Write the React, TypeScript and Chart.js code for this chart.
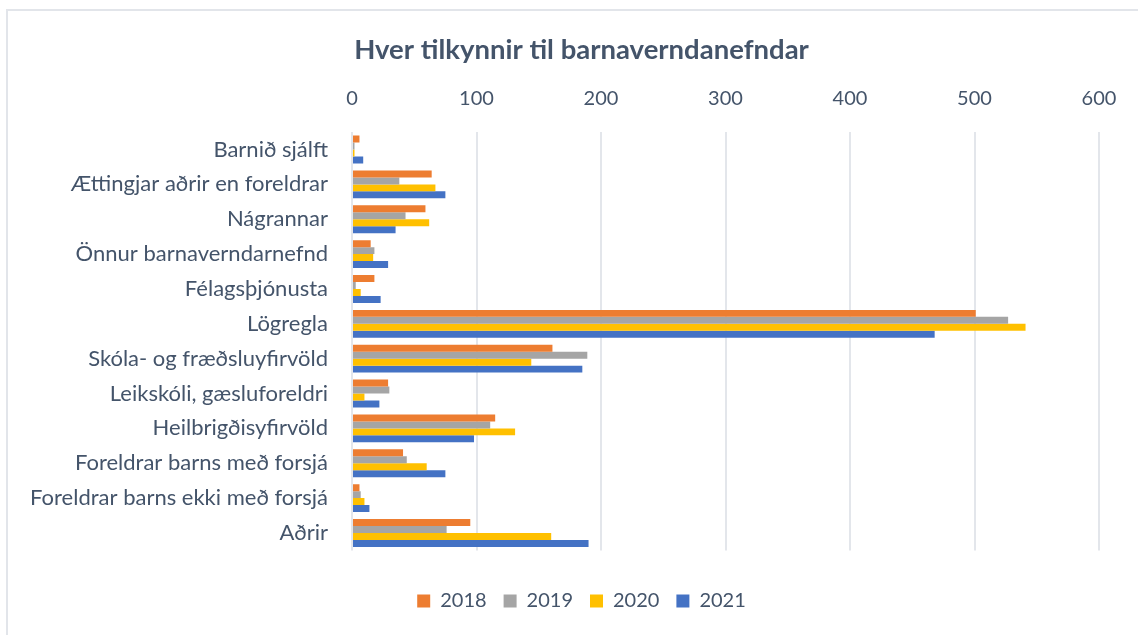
import React, { useEffect, useRef } from "react";
import { Chart, registerables } from "chart.js";

Chart.register(...registerables);

const title = "Hver tilkynnir til barnaverndanefndar";
const categories = [
  "Barnið sjálft",
  "Ættingjar aðrir en foreldrar",
  "Nágrannar",
  "Önnur barnaverndarnefnd",
  "Félagsþjónusta",
  "Lögregla",
  "Skóla- og fræðsluyfirvöld",
  "Leikskóli, gæsluforeldri",
  "Heilbrigðisyfirvöld",
  "Foreldrar barns með forsjá",
  "Foreldrar barns ekki með forsjá",
  "Aðrir",
];
const seriesNames = ["2018", "2019", "2020", "2021"];
const v2018 = [6, 64, 59, 15, 18, 501, 161, 29, 115, 41, 6, 95];
const v2019 = [2, 38, 43, 18, 3, 527, 189, 30, 111, 44, 7, 76];
const v2020 = [2, 67, 62, 17, 7, 541, 144, 10, 131, 60, 10, 160];
const v2021 = [9, 75, 35, 29, 23, 468, 185, 22, 98, 75, 14, 190];
const colors = ["#ED7D31", "#A5A5A5", "#FFC000", "#4472C4"];
const xMin = 0;
const xMax = 600;
const xStep = 100;

const TEXT = "#44546A";
const FONT = "Lato, 'Open Sans', sans-serif";

export default function App() {
  const ref = useRef<HTMLCanvasElement | null>(null);
  useEffect(() => {
    if (!ref.current) return;
    const values = [v2018, v2019, v2020, v2021];
    const chart = new Chart(ref.current, {
      type: "bar",
      data: {
        labels: categories,
        datasets: seriesNames.map((n, i) => ({
          label: n,
          data: values[i],
          backgroundColor: colors[i],
          borderWidth: 0,
          categoryPercentage: 0.8,
          barPercentage: 1,
          xAxisID: "x",
          yAxisID: "y",
        })),
      },
      options: {
        indexAxis: "y",
        animation: false,
        responsive: false,
        maintainAspectRatio: false,
        layout: { padding: { left: 25, right: 0, top: 0, bottom: 14 } },
        plugins: {
          title: {
            display: true,
            text: title,
            color: TEXT,
            font: { family: FONT, size: 27.5, weight: "bold" },
            padding: { top: 33.5, bottom: 10 },
          },
          legend: {
            position: "bottom",
            labels: {
              color: TEXT,
              font: { family: FONT, size: 20 },
              boxWidth: 13,
              boxHeight: 13,
              padding: 17,
            },
          },
          tooltip: { enabled: false },
        },
        scales: {
          x: {
            position: "top",
            min: xMin,
            max: xMax,
            ticks: {
              stepSize: xStep,
              color: TEXT,
              font: { family: FONT, size: 20 },
              padding: 21.6,
            },
            grid: { color: "#E3E6EB", lineWidth: 2, drawTicks: false },
            border: { display: false },
            afterFit: (s: any) => {
              s.height = 55.6;
            },
          },
          x2: {
            type: "linear",
            position: "bottom",
            display: true,
            grid: { display: false, drawTicks: false },
            border: { display: false },
            ticks: { display: false },
            afterFit: (s: any) => {
              s.height = 23.6;
            },
          },
          y: {
            position: "left",
            ticks: {
              color: TEXT,
              font: { family: FONT, size: 22 },
              padding: 24,
              autoSkip: false,
            },
            grid: { display: false, drawTicks: false },
            border: { display: false },
            afterFit: (s: any) => {
              s.width = 327;
            },
          },
          y2: {
            type: "linear",
            position: "right",
            display: true,
            grid: { display: false, drawTicks: false },
            border: { display: false },
            ticks: { display: false },
            afterFit: (s: any) => {
              s.width = 38;
            },
          },
        },
      },
    });
    return () => chart.destroy();
  }, []);

  return (
    <div
      style={{
        position: "fixed",
        left: 0,
        top: 0,
        width: 1138,
        height: 635,
        background: "#fff",
        overflow: "hidden",
      }}
    >
      <div
        style={{
          position: "absolute",
          left: 6,
          top: 9,
          width: 1200,
          height: 700,
          borderLeft: "2px solid #E2E5EA",
          borderTop: "2px solid #E2E5EA",
        }}
      />
      <canvas
        ref={ref}
        width={1138}
        height={635}
        style={{ position: "absolute", left: 0, top: 0, width: 1138, height: 635 }}
      />
    </div>
  );
}
